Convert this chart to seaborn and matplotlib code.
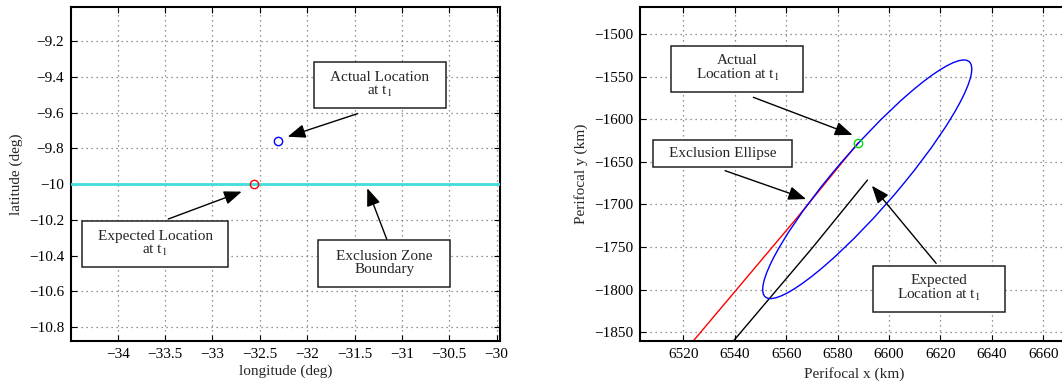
import matplotlib
matplotlib.use("Agg")
import matplotlib.pyplot as plt
from matplotlib.patches import Ellipse, Rectangle
import seaborn as sns

# ---------------- data: left panel (geodetic) ----------------
lon_ticks = [-34, -33.5, -33, -32.5, -32, -31.5, -31, -30.5, -30]
lon_tick_labels = ["\u221234", "\u221233.5", "\u221233", "\u221232.5", "\u221232",
                   "\u221231.5", "\u221231", "\u221230.5", "\u221230"]
lat_ticks = [-10.8, -10.6, -10.4, -10.2, -10.0, -9.8, -9.6, -9.4, -9.2]
lat_tick_labels = ["\u221210.8", "\u221210.6", "\u221210.4", "\u221210.2", "\u221210",
                   "\u22129.8", "\u22129.6", "\u22129.4", "\u22129.2"]
expected_lon = [-32.56]
expected_lat = [-10.0]
actual_lon = [-32.305]
actual_lat = [-9.76]
boundary_lat = -10.0

# ---------------- data: right panel (perifocal) ----------------
pf_x_ticks = [6520, 6540, 6560, 6580, 6600, 6620, 6640, 6660]
pf_x_tick_labels = ["6520", "6540", "6560", "6580", "6600", "6620", "6640", "6660"]
pf_y_ticks = [-1850, -1800, -1750, -1700, -1650, -1600, -1550, -1500]
pf_y_tick_labels = ["\u22121850", "\u22121800", "\u22121750", "\u22121700",
                    "\u22121650", "\u22121600", "\u22121550", "\u22121500"]
red_track_x = [6521.1, 6564.1, 6588.0]
red_track_y = [-1870.0, -1716.0, -1627.6]
black_track_x = [6536.7, 6570.0, 6591.6]
black_track_y = [-1870.0, -1751.5, -1671.4]
actual_pf_x = [6587.9]
actual_pf_y = [-1627.6]
ellipse_center = (6591.5, -1670.5)
ellipse_major = 290.0
ellipse_minor = 30.0
ellipse_angle = 74.8

# ---------------- style ----------------
sns.set_theme(style="ticks")
plt.rcParams["font.family"] = ["Liberation Serif", "DejaVu Serif"]
plt.rcParams["mathtext.fontset"] = "stix"
FS = 11

fig = plt.figure(figsize=(10.62, 3.84), dpi=100)
axL = fig.add_axes([71 / 1062, 43.3 / 384, 429 / 1062, 333.4 / 384])
axR = fig.add_axes([640 / 1062, 43.3 / 384, 454.7 / 1062, 334.0 / 384])


def style_axes(ax):
    ax.grid(True, linestyle=(0, (1, 3)), color="0.45", linewidth=0.9)
    ax.tick_params(direction="in", top=True, right=True, length=4, width=0.8,
                   labelsize=FS, colors="black", pad=5)
    for sp in ax.spines.values():
        sp.set_visible(True)
        sp.set_linewidth(1.5)
        sp.set_color("black")


def box(ax, x0, x1, y0, y1, text):
    ax.add_patch(Rectangle((x0, y0), x1 - x0, y1 - y0, facecolor="white",
                           edgecolor="#222222", linewidth=1.1, zorder=5))
    ax.text((x0 + x1) / 2, (y0 + y1) / 2, text, ha="center", va="center",
            multialignment="center", fontsize=FS, zorder=6, linespacing=1.0)


def arrow(ax, tail, head):
    ax.annotate("", xy=head, xytext=tail, zorder=6,
                arrowprops=dict(arrowstyle="-|>,head_length=0.9,head_width=0.35",
                                color="black", lw=1.0, shrinkA=0, shrinkB=0))


# ---------------- left panel ----------------
axL.axhline(boundary_lat, color="#44dddd", linewidth=2, zorder=3)
sns.lineplot(x=expected_lon, y=expected_lat, ax=axL, marker="o", linestyle="",
             markersize=6, markerfacecolor="none", markeredgecolor="red",
             markeredgewidth=1.0, zorder=4)
sns.lineplot(x=actual_lon, y=actual_lat, ax=axL, marker="o", linestyle="",
             markersize=6, markerfacecolor="none", markeredgecolor="blue",
             markeredgewidth=1.0, zorder=4)
axL.set_xlim(-34.493, -29.965)
axL.set_ylim(-10.875, -9.012)
axL.set_xticks(lon_ticks)
axL.set_xticklabels(lon_tick_labels)
axL.set_yticks(lat_ticks)
axL.set_yticklabels(lat_tick_labels)
axL.set_xlabel("longitude (deg)", fontsize=FS, labelpad=3)
axL.set_ylabel("latitude (deg)", fontsize=FS, labelpad=4)
style_axes(axL)

box(axL, -31.928, -30.535, -9.576, -9.319, "Actual Location\nat t$_1$")
arrow(axL, (-31.467, -9.606), (-32.206, -9.735))
box(axL, -34.376, -32.833, -10.465, -10.206, "Expected Location\nat t$_1$")
arrow(axL, (-33.466, -10.195), (-32.691, -10.042))
box(axL, -31.883, -30.493, -10.573, -10.312, "Exclusion Zone\nBoundary")
arrow(axL, (-31.161, -10.307), (-31.366, -10.023))

# ---------------- right panel ----------------
axR.add_patch(Ellipse(ellipse_center, ellipse_major, ellipse_minor, angle=ellipse_angle,
                      fill=False, edgecolor="blue", linewidth=1.0, zorder=3))
sns.lineplot(x=red_track_x, y=red_track_y, ax=axR, sort=False, estimator=None,
             color="red", linewidth=1.0, zorder=2)
sns.lineplot(x=black_track_x, y=black_track_y, ax=axR, sort=False, estimator=None,
             color="black", linewidth=1.0, zorder=2)
sns.lineplot(x=actual_pf_x, y=actual_pf_y, ax=axR, marker="o", linestyle="",
             markersize=6, markerfacecolor="none", markeredgecolor="#00dd00",
             markeredgewidth=1.0, zorder=4)
axR.set_xlim(6503.1, 6680.0)
axR.set_ylim(-1859.9, -1468.0)
axR.set_xticks(pf_x_ticks)
axR.set_xticklabels(pf_x_tick_labels)
axR.set_yticks(pf_y_ticks)
axR.set_yticklabels(pf_y_tick_labels)
axR.set_xlabel("Perifocal x (km)", fontsize=FS)
axR.xaxis.set_label_coords((854 - 640) / 454.7, -0.08)
axR.set_ylabel("Perifocal y (km)", fontsize=FS, labelpad=4)
style_axes(axR)

box(axR, 6515.2, 6566.7, -1568.1, -1513.7, "Actual\nLocation at t$_1$")
arrow(axR, (6547.2, -1574.3), (6585.8, -1618.5))
box(axR, 6508.1, 6562.2, -1655.8, -1624.4, "Exclusion Ellipse")
arrow(axR, (6536.2, -1660.4), (6567.7, -1693.7))
box(axR, 6593.7, 6645.2, -1826.0, -1772.0, "Expected\nLocation at t$_1$")
arrow(axR, (6618.3, -1769.1), (6593.3, -1678.1))

fig.savefig("out.png", dpi=100)
